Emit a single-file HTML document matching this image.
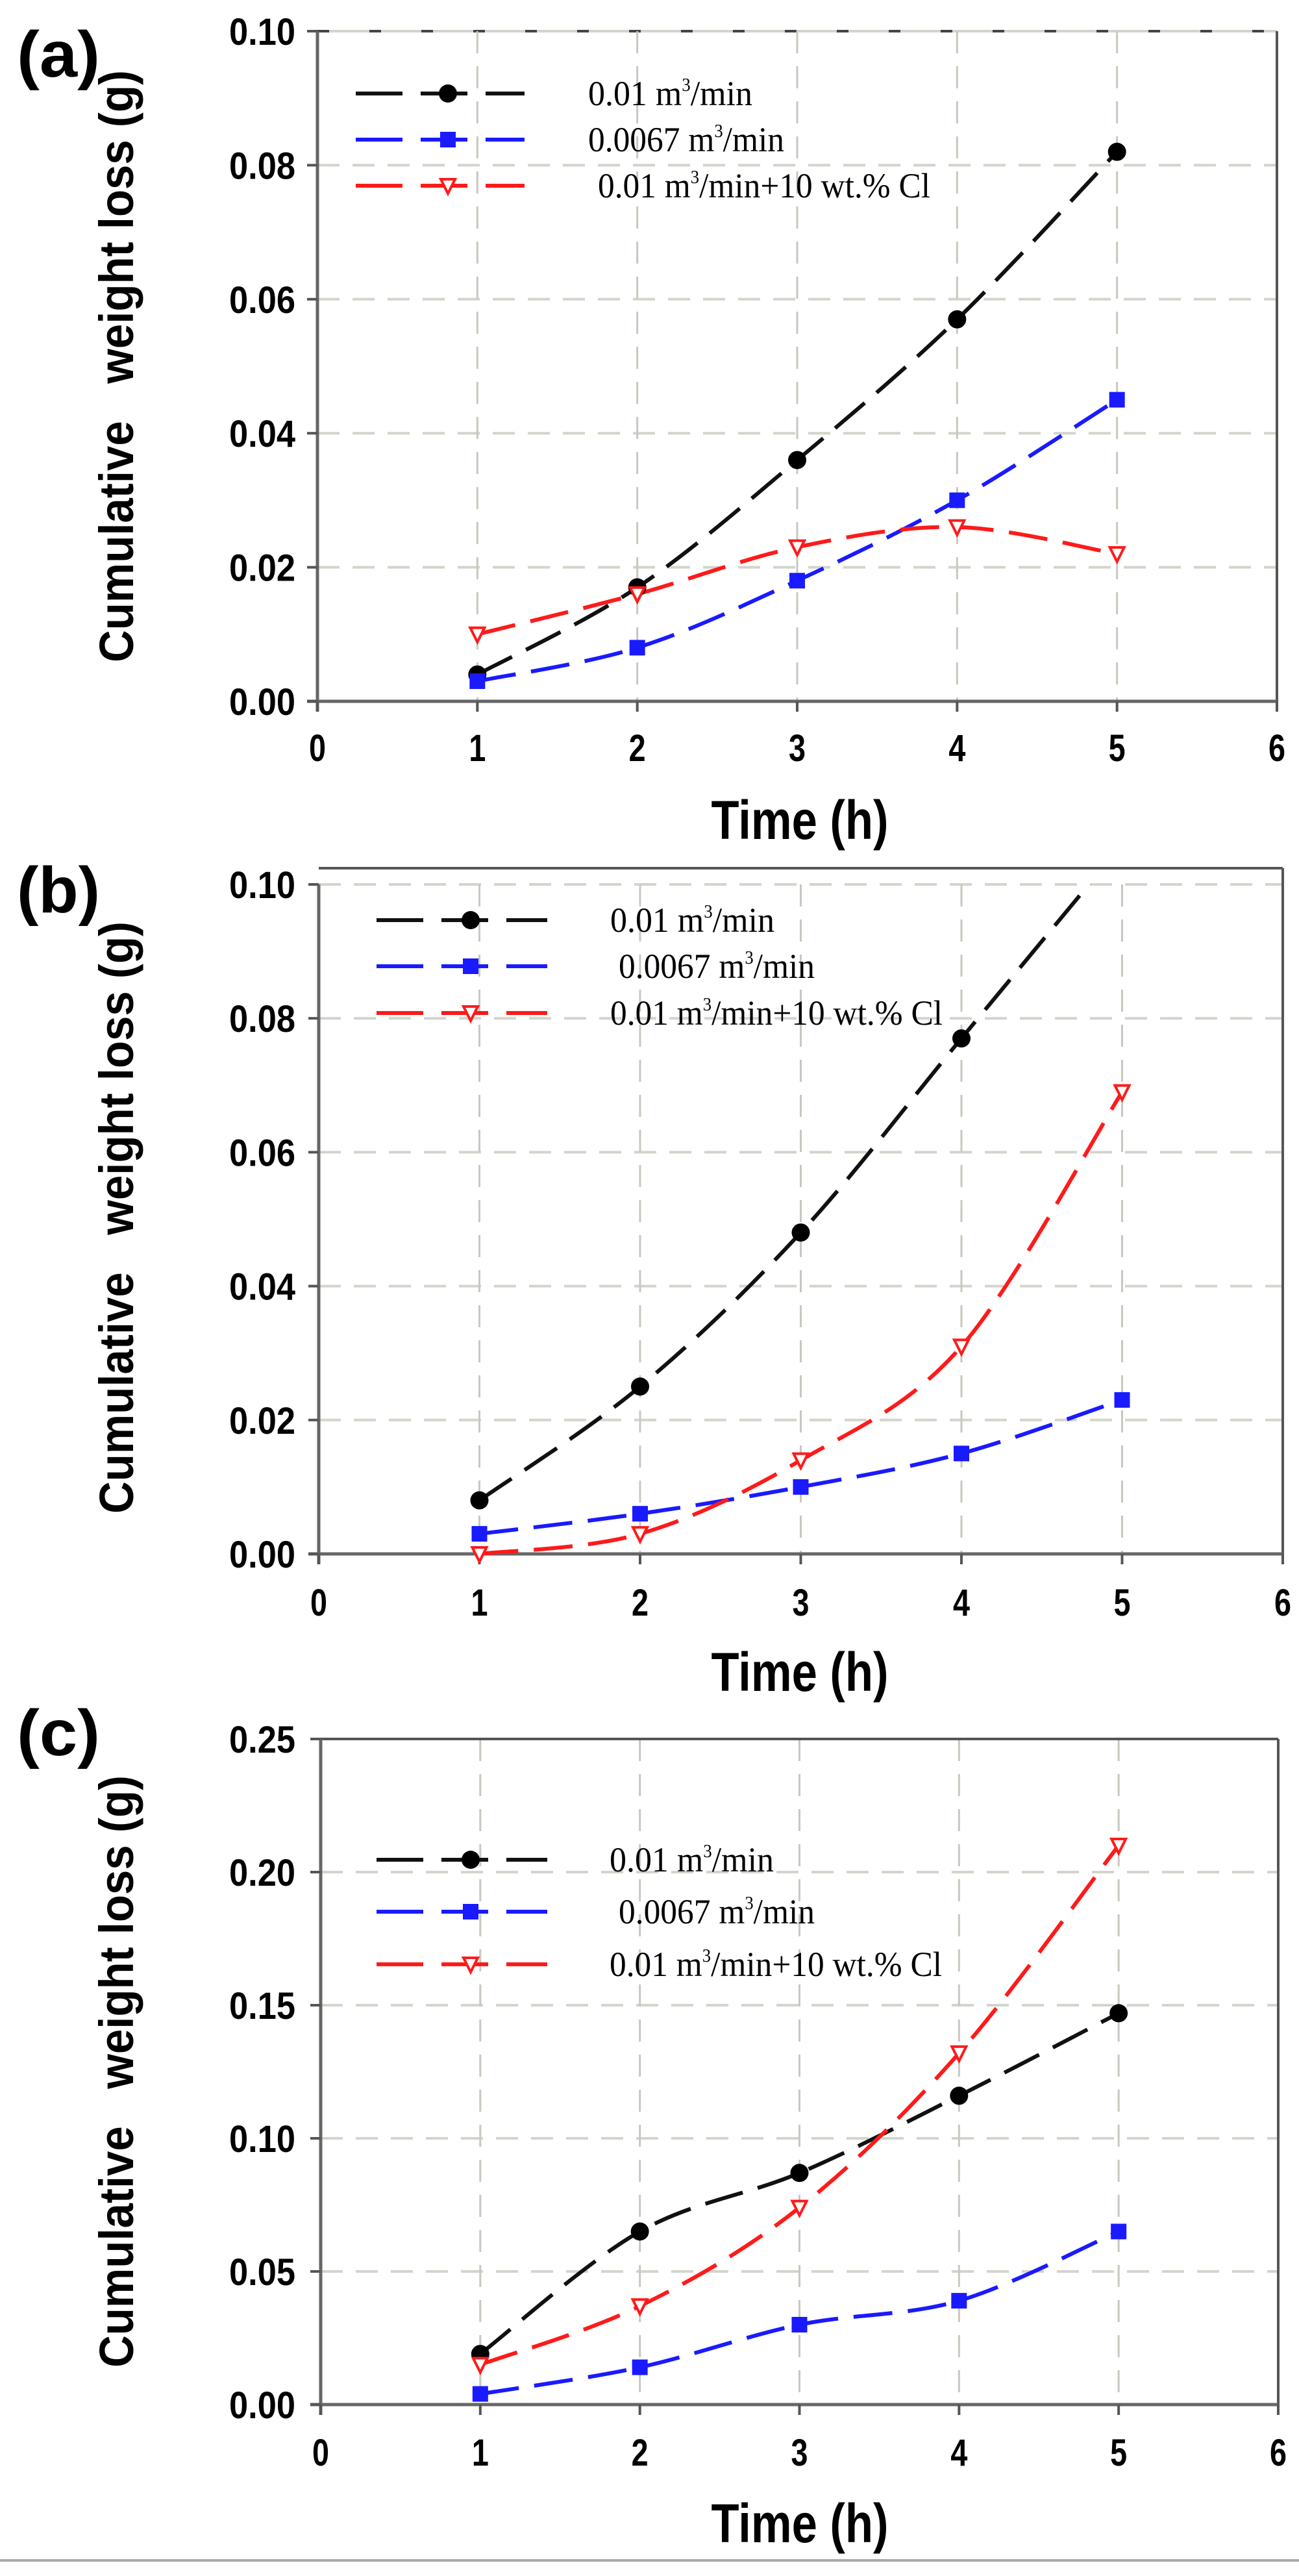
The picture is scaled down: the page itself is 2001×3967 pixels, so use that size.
<!DOCTYPE html>
<html><head><meta charset="utf-8"><style>
html,body{margin:0;padding:0;background:#fff;}
svg{display:block;}
</style></head><body>
<svg id="s" xmlns="http://www.w3.org/2000/svg" width="2001" height="3967" viewBox="0 0 2001 3967"></svg>
<script>
const s=document.getElementById('s');
let h='';
const panels=[
 {lab:'(a)',labY:118,x0:489,x6:1967,yT:48,yB:1080,max:0.10,step:0.02,dec:2,top:'dash',topY:48,
  tickY:1172,timeY:1292,titleY:564,leg:[144,215,286],legTx:[906,906,921],
  data:[[.004,.017,.036,.057,.082],[.003,.008,.018,.030,.045],[.010,.016,.023,.026,.022]]},
 {lab:'(b)',labY:1405,x0:491,x6:1976,yT:1362,yB:2393,max:0.10,step:0.02,dec:2,top:'solid',topY:1337,
  tickY:2488,timeY:2604,titleY:1875,leg:[1417,1488,1560],legTx:[940,953,940],
  data:[[.008,.025,.048,.077,.106],[.003,.006,.010,.015,.023],[0,.003,.014,.031,.069]]},
 {lab:'(c)',labY:2703,x0:494,x6:1969,yT:2678,yB:3703,max:0.25,step:0.05,dec:2,top:'solid',topY:2678,
  tickY:3797,timeY:3915,titleY:3190,leg:[2864,2944,3025],legTx:[939,953,939],
  data:[[.019,.065,.087,.116,.147],[.004,.014,.030,.039,.065],[.015,.037,.074,.132,.210]]}
];
const cols=['#111','#1a1aff','#ff1a1a'];
const legTxt=[['0.01 m','/min',253],['0.0067 m','/min',302],['0.01 m','/min+10 wt.% Cl',512]];
function path(pts){
 let d='M'+pts[0][0]+','+pts[0][1];
 for(let i=0;i<pts.length-1;i++){
  const p0=pts[Math.max(0,i-1)],p1=pts[i],p2=pts[i+1],p3=pts[Math.min(pts.length-1,i+2)];
  const c1=[p1[0]+(p2[0]-p0[0])/6,p1[1]+(p2[1]-p0[1])/6];
  const c2=[p2[0]-(p3[0]-p1[0])/6,p2[1]-(p3[1]-p1[1])/6];
  d+=` C${c1[0].toFixed(1)},${c1[1].toFixed(1)} ${c2[0].toFixed(1)},${c2[1].toFixed(1)} ${p2[0]},${p2[1].toFixed(1)}`;
 }
 return d;
}
function marker(k,x,y){
 if(k==0) return `<circle cx="${x}" cy="${y}" r="14" fill="#000"/>`;
 if(k==1) return `<rect x="${x-12}" y="${y-12}" width="24" height="24" fill="#1a1aff"/>`;
 return `<polygon points="${x-11},${y-10} ${x+11},${y-10} ${x},${y+12}" fill="#fff" stroke="#ff1a1a" stroke-width="4"/>`;
}
panels.forEach((p,pi)=>{
 const ux=(p.x6-p.x0)/6;
 const X=v=>p.x0+v*ux, Y=v=>p.yB-(v/p.max)*(p.yB-p.yT);
 const n=Math.round(p.max/p.step);
 for(let i=1;i<=n;i++){
  const y=Y(i*p.step);
  if(i==n && p.top=='dash'){
   h+=`<line x1="${p.x0}" y1="${y}" x2="${p.x6}" y2="${y}" stroke="#d4d4cc" stroke-width="4"/>`;
   h+=`<line x1="${p.x0}" y1="${y}" x2="${p.x6}" y2="${y}" stroke="#444" stroke-width="4" stroke-dasharray="18 62"/>`;
  } else {
   h+=`<line x1="${p.x0}" y1="${y}" x2="${p.x6}" y2="${y}" stroke="#d4d4cc" stroke-width="4" stroke-dasharray="34 20"/>`;
  }
 }
 for(let i=1;i<=5;i++){
  h+=`<line x1="${X(i)}" y1="${p.yT}" x2="${X(i)}" y2="${p.yB}" stroke="#c8c8c0" stroke-width="3" stroke-dasharray="34 20"/>`;
 }
 if(p.top=='solid') h+=`<line x1="${p.x0}" y1="${p.topY}" x2="${p.x6}" y2="${p.topY}" stroke="#555" stroke-width="4"/>`;
 h+=`<line x1="${p.x0}" y1="${p.yT}" x2="${p.x0}" y2="${p.yB+16}" stroke="#666" stroke-width="5"/>`;
 h+=`<line x1="${p.x6}" y1="${p.topY}" x2="${p.x6}" y2="${p.yB+16}" stroke="#555" stroke-width="4"/>`;
 h+=`<line x1="${p.x0-16}" y1="${p.yB}" x2="${p.x6}" y2="${p.yB}" stroke="#666" stroke-width="5"/>`;
 for(let i=0;i<=n;i++){
  const y=Y(i*p.step);
  h+=`<line x1="${p.x0-16}" y1="${y}" x2="${p.x0}" y2="${y}" stroke="#555" stroke-width="4"/>`;
  h+=`<text x="455" y="${y+21}" text-anchor="end" font-family="Liberation Sans Narrow, Liberation Sans, sans-serif" font-weight="bold" font-size="58" textLength="102" lengthAdjust="spacingAndGlyphs">${(i*p.step).toFixed(p.dec)}</text>`;
 }
 for(let i=0;i<=6;i++){
  h+=`<line x1="${X(i)}" y1="${p.yB}" x2="${X(i)}" y2="${p.yB+16}" stroke="#555" stroke-width="4"/>`;
  h+=`<text x="${X(i)}" y="${p.tickY}" text-anchor="middle" font-family="Liberation Sans Narrow, Liberation Sans, sans-serif" font-weight="bold" font-size="58" textLength="26" lengthAdjust="spacingAndGlyphs">${i}</text>`;
 }
 h+=`<text x="1232" y="${p.timeY}" text-anchor="middle" font-family="Liberation Sans, sans-serif" font-weight="bold" font-size="84" textLength="273" lengthAdjust="spacingAndGlyphs">Time (h)</text>`;
 h+=`<text xml:space="preserve" style="white-space:pre" transform="translate(205,${p.titleY}) rotate(-90)" text-anchor="middle" font-family="Liberation Sans, sans-serif" font-weight="bold" font-size="74" textLength="912" lengthAdjust="spacingAndGlyphs">Cumulative   weight loss (g)</text>`;
 h+=`<text x="26" y="${p.labY}" font-family="Liberation Sans, sans-serif" font-weight="bold" font-size="100" textLength="128" lengthAdjust="spacingAndGlyphs">${p.lab}</text>`;
 h+=`<clipPath id="c${pi}"><rect x="${p.x0}" y="${p.yT}" width="${p.x6-p.x0}" height="${p.yB-p.yT+40}"/></clipPath>`;
 p.data.forEach((d,k)=>{
  const pts=d.map((v,i)=>[X(i+1),Y(v)]);
  h+=`<path d="${path(pts)}" fill="none" stroke="${cols[k]}" stroke-width="6" stroke-dasharray="60 24" clip-path="url(#c${pi})"/>`;
 });
 p.data.forEach((d,k)=>{
  d.forEach((v,i)=>{ if(v<=p.max) h+=marker(k,X(i+1),Y(v)); });
 });
 p.leg.forEach((y,k)=>{
  const lx=pi==0?548:580, lx2=pi==0?808:843, mx=pi==0?690:725;
  h+=`<line x1="${lx}" y1="${y}" x2="${lx2}" y2="${y}" stroke="${cols[k]}" stroke-width="6" stroke-dasharray="72 28"/>`;
  h+=marker(k,mx,y);
  const t=legTxt[k];
  h+=`<text x="${p.legTx[k]}" y="${y+18}" font-family="Liberation Serif, serif" font-size="54" textLength="${t[2]}" lengthAdjust="spacingAndGlyphs">${t[0]}<tspan font-size="28" dy="-22">3</tspan><tspan dy="22">${t[1]}</tspan></text>`;
 });
});
h+=`<line x1="0" y1="3943" x2="2001" y2="3943" stroke="#aaa" stroke-width="4"/>`;
s.innerHTML=h;
</script>
</body></html>
